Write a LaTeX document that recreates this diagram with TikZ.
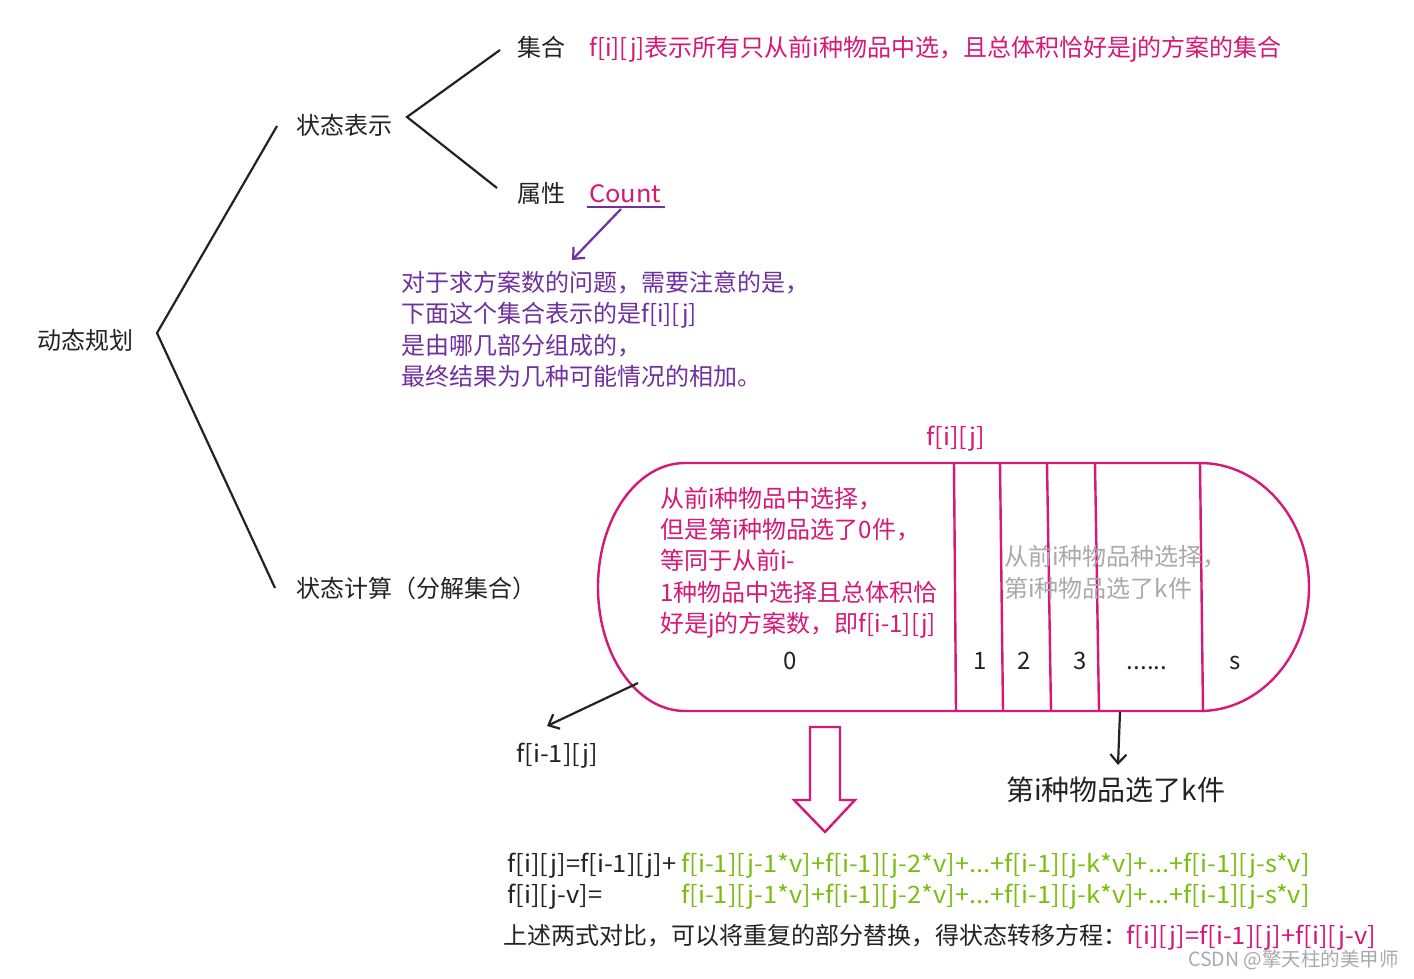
\documentclass[tikz,border=0pt]{standalone}
\usepackage{fontspec}
\setmainfont{Noto Sans CJK SC}
\usetikzlibrary{arrows.meta}
\definecolor{pk}{RGB}{214,24,120}
\definecolor{pu}{RGB}{112,48,160}
\definecolor{gr}{RGB}{122,190,18}
\definecolor{gy}{RGB}{170,170,170}
\definecolor{ink}{RGB}{35,35,35}
\newcommand{\wl}[1]{\scalebox{1.06}[1]{#1}}
\begin{document}
\begin{tikzpicture}[x=1pt,y=-1pt,
  txt/.style={inner sep=0pt, anchor=base west, font=\fontsize{24}{28}\selectfont, text=ink},
  num/.style={inner sep=0pt, anchor=base, font=\fontsize{24}{28}\selectfont, text=ink},
  ln/.style={line width=2.2pt, draw=ink},
  pkl/.style={line width=2.4pt, draw=pk},
  tip/.style={-{Straight Barb[length=9pt,width=16pt,line width=2.2pt]}}
]
\fill[white] (0,0) rectangle (1414,979);
\useasboundingbox (0,0) rectangle (1414,979);

% tree
\node[txt] (dp) at (37,349) {动态规划};
\coordinate (r0) at (157,333);
\coordinate (r1) at (277,126);
\coordinate (r2) at (275,588);
\draw[ln] (r1) -- (r0) -- (r2);
\node[txt] (rep) at (296,135) {状态表示};
\coordinate (s0) at (407,117);
\coordinate (s1) at (500,50);
\coordinate (s2) at (497,188);
\draw[ln] (s1) -- (s0) -- (s2);
\node[txt] (set) at (517,57) {集合};
\node[txt, text=pk] (setd) at (589,57) {f[i][j]表示所有只从前i种物品中选，且总体积恰好是j的方案的集合};
\node[txt] (attr) at (517,202) {属性};
\node[txt, text=pk] (cnt) at (589,202) {\wl{Count}};
\coordinate (u0) at (587,207);
\coordinate (u1) at (665,207);
\draw[line width=2.2pt, draw=pu] (u0) -- (u1);
\coordinate (a0) at (621,209);
\coordinate (a1) at (572,260);
\draw[line width=2.2pt, draw=pu, tip] (a0) -- (a1);
\node[txt, text=pu] (p1) at (401,291) {对于求方案数的问题，需要注意的是，};
\node[txt, text=pu] (p2) at (401,322) {下面这个集合表示的是f[i][j]};
\node[txt, text=pu] (p3) at (401,354) {是由哪几部分组成的，};
\node[txt, text=pu] (p4) at (401,385) {最终结果为几种可能情况的相加。};

\node[txt] (calc) at (296,597) {状态计算（分解集合）};

% capsule
\node[txt, text=pk] (fij) at (926,445) {\wl{f[i][j]}};
\draw[pkl] (685,463) -- (1200,463) arc[start angle=-90, end angle=90, x radius=109, y radius=124]
  -- (685,711) arc[start angle=90, end angle=270, x radius=87, y radius=124] -- cycle;
\draw[pkl] (954,463) -- (956,711);
\draw[pkl] (1000,463) -- (1003,711);
\draw[pkl] (1047,463) -- (1051,711);
\draw[pkl] (1095,463) -- (1099,711);
\draw[pkl] (1200,463) -- (1203,711);
\node[txt, text=pk] (c1) at (660,507) {从前i种物品中选择，};
\node[txt, text=pk] (c2) at (660,538) {但是第i种物品选了0件，};
\node[txt, text=pk] (c3) at (660,569) {等同于从前i-};
\node[txt, text=pk] (c4) at (660,601) {1种物品中选择且总体积恰};
\node[txt, text=pk] (c5) at (660,632) {好是j的方案数，即f[i-1][j]};
\node[txt, text=gy] (g1) at (1004,565) {从前i种物品种选择，};
\node[txt, text=gy] (g2) at (1004,597) {第i种物品选了k件};
\node[num] (n0) at (790,669) {0};
\node[num] (n1) at (980,669) {1};
\node[num] (n2) at (1024,669) {2};
\node[num] (n3) at (1080,669) {3};
\node[num] (nd) at (1147,669) {......};
\node[num] (ns) at (1235,669) {s};

% arrows below capsule
\coordinate (b0) at (638,683);
\coordinate (b1) at (547,726);
\draw[ln, tip] (b0) -- (b1);
\node[txt] (fprev) at (516,762) {\wl{f[i-1][j]}};
\coordinate (k0) at (1120,712);
\coordinate (k1) at (1118,765);
\draw[ln, tip] (k0) -- (k1);
\node[txt, font=\fontsize{28}{32}\selectfont] (kk) at (1006,800) {第i种物品选了k件};

% hollow arrow
\draw[line width=2.4pt, draw=pk, line join=miter] (810,727) -- (840,727) -- (840,800) -- (855,800) -- (825,832) -- (794,800) -- (810,800) -- cycle;

% formulas
\node[txt] (e1) at (507,872) {\wl{f[i][j]=f[i-1][j]+}};
\node[txt, text=gr] (e1g) at (681,872) {\wl{f[i-1][j-1*v]+f[i-1][j-2*v]+...+f[i-1][j-k*v]+...+f[i-1][j-s*v]}};
\node[txt] (e2) at (507,903) {\wl{f[i][j-v]=}};
\node[txt, text=gr] (e2g) at (681,903) {\wl{f[i-1][j-1*v]+f[i-1][j-2*v]+...+f[i-1][j-k*v]+...+f[i-1][j-s*v]}};
\node[txt] (e3) at (503,944) {上述两式对比，可以将重复的部分替换，得状态转移方程：};
\node[txt, text=pk] (e3p) at (1126,944) {\wl{f[i][j]=f[i-1][j]+f[i][j-v]}};

\node[txt, text=gy, font=\fontsize{19.5}{22}\selectfont] (wm) at (1188,966) {CSDN @擎天柱的美甲师};
\end{tikzpicture}
\end{document}
